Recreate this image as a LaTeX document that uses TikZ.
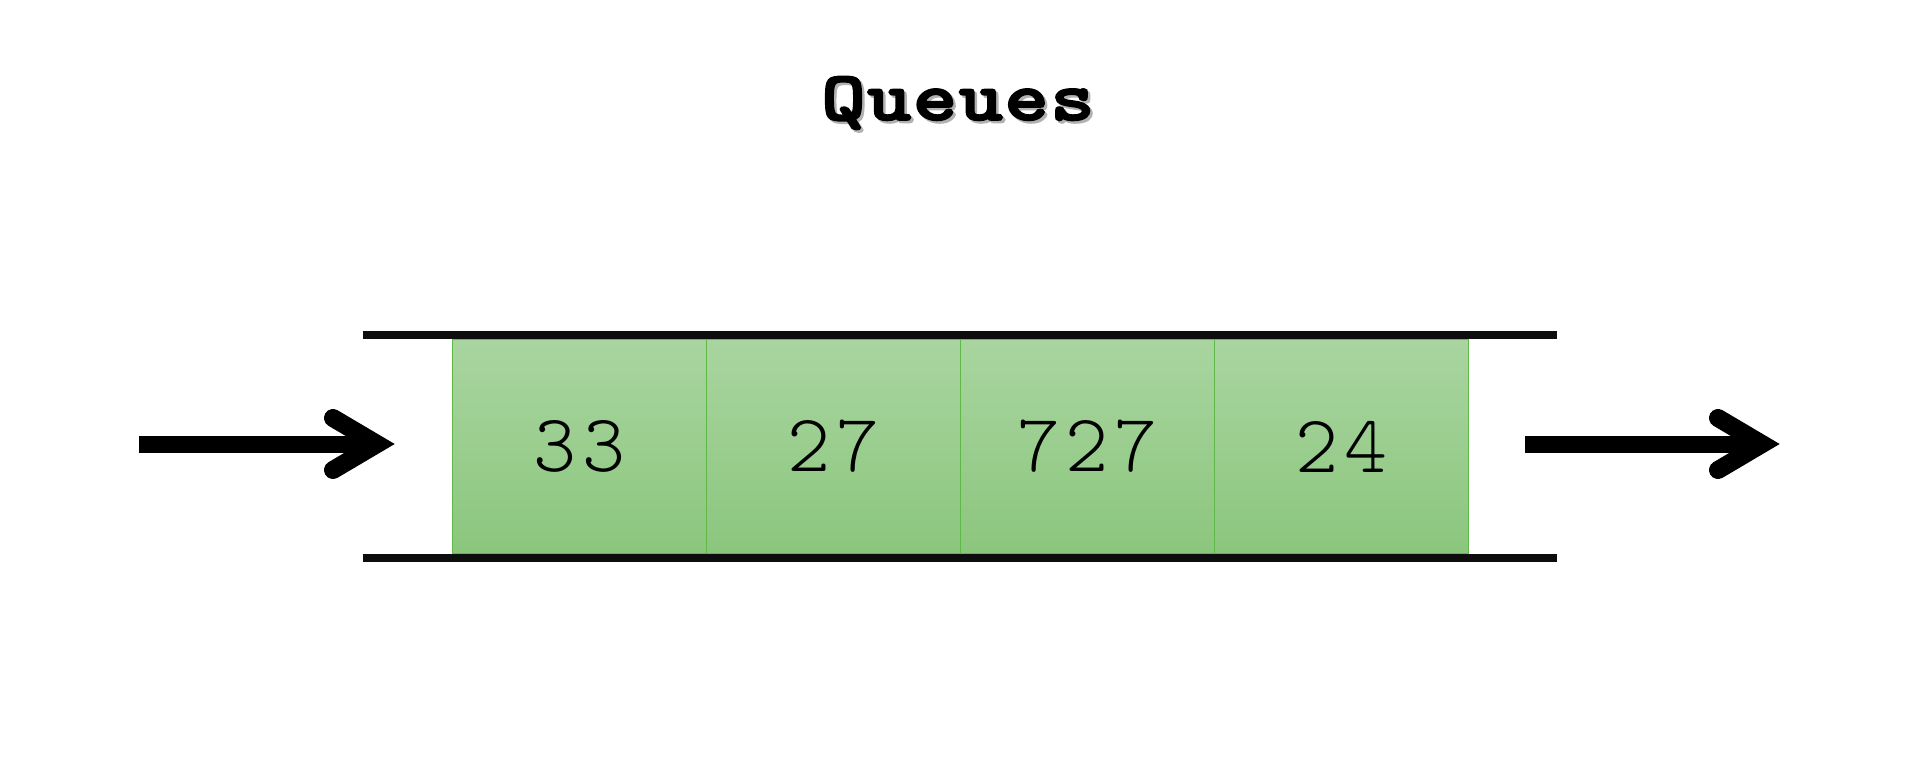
\documentclass[tikz,border=0pt]{standalone}
\usepackage{fontspec}
\newfontfamily\titlefont{lmmonolt10-bold.otf}[FakeBold=2.5,LetterSpace=2]
\newfontfamily\numfont{lmmonolt10-regular.otf}[LetterSpace=7]
\definecolor{celltop}{RGB}{169,213,160}
\definecolor{cellbot}{RGB}{139,198,125}
\definecolor{celledge}{RGB}{95,185,70}
\newcommand{\ttl}{\scalebox{1.2}[1]{Queues}}
\tikzset{
  cell/.style={draw=celledge, line width=1.2pt, top color=celltop, bottom color=cellbot,
    minimum width=254pt, minimum height=215pt, inner sep=0pt, font=\numfont\fontsize{82}{82}\selectfont},
  titletext/.style={anchor=base, font=\titlefont\fontsize{70}{70}\selectfont},
  rail/.style={line width=8pt, draw=black!95},
  shaft/.style={line width=17pt, line cap=butt},
  barb/.style={line width=18pt, line cap=round, line join=miter},
}
\begin{document}
\begin{tikzpicture}[x=1pt,y=-1pt]
\useasboundingbox[fill=white] (0,0) rectangle (1920,768);
% title with shadow
\node[titletext, text=black!30] (tshadow) at (960.5,122.5) {\ttl};
\node[titletext] (title) at (958,120) {\ttl};
% cells
\node[cell] (c1) at (579.5,446.5) {33};
\node[cell] (c2) at (833.5,446.5) {27};
\node[cell] (c3) at (1087.5,446.5) {727};
\node[cell] (c4) at (1341.5,446.5) {24};
% rails
\coordinate (tl) at (363,335); \coordinate (tr) at (1557,335);
\coordinate (bl) at (363,558); \coordinate (br) at (1557,558);
\draw[rail] (tl) -- (tr);
\draw[rail] (bl) -- (br);
% left arrow
\coordinate (ls) at (139,444); \coordinate (lv) at (377,444);
\coordinate (lt) at (333,418); \coordinate (lb) at (333,470);
\draw[shaft] (ls) -- (lv);
\draw[barb] (lt) -- (lv) -- (lb);
% right arrow
\coordinate (rs) at (1525,444); \coordinate (rv) at (1762,444);
\coordinate (rt) at (1718,418); \coordinate (rb) at (1718,470);
\draw[shaft] (rs) -- (rv);
\draw[barb] (rt) -- (rv) -- (rb);
\end{tikzpicture}
\end{document}
